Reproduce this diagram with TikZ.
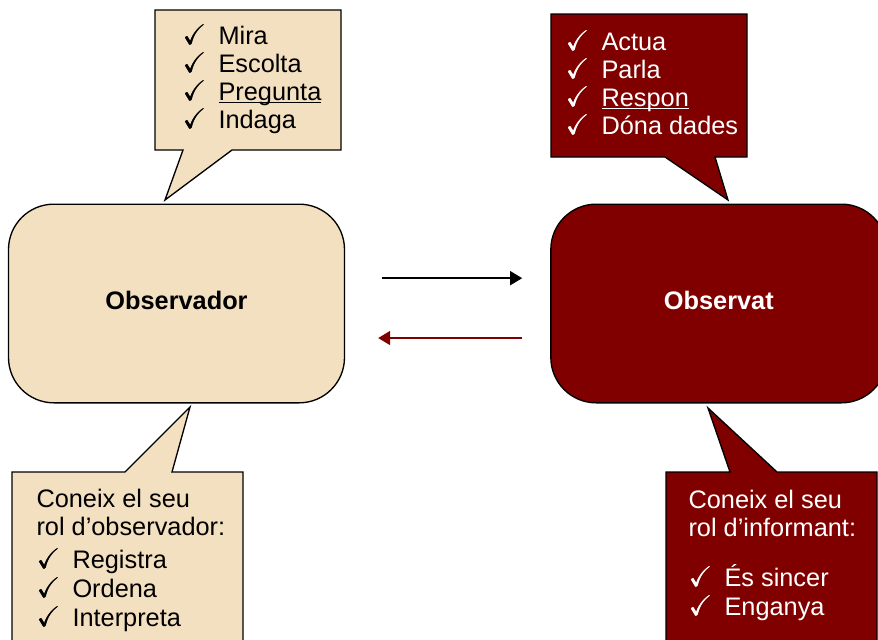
\documentclass[tikz,border=0pt]{standalone}
\usepackage{amsmath}
\usepackage{amssymb}
\usepackage{fontspec}
\setmainfont{Liberation Sans}
\usetikzlibrary{arrows.meta, positioning, calc}

\definecolor{beige}{RGB}{243,224,192}
\definecolor{granat}{RGB}{128,0,0}
\newcommand{\chk}{\makebox[27pt][l]{\scalebox{1.12}{\rlap{$\checkmark$}\kern0.3pt$\checkmark$}}}
\newcommand{\subr}[1]{\setbox0\hbox{#1}\rlap{\rule[-2.2pt]{\wd0}{0.9pt}}\box0}

\begin{document}
\begin{tikzpicture}[x=0.75pt,y=-0.75pt,>={Triangle[length=9pt,width=10.5pt]},
            thick,box/.style={draw, line width=1pt, rounded corners=34pt, inner sep=0pt, text depth=5pt,
            minimum width=252pt, minimum height=149pt, font=\fontsize{19}{21}\selectfont\bfseries}]
            \useasboundingbox (0,0) rectangle (878,639);

            % the two roles
            \node [box, fill=beige] at (176.5,303.5) (obs) {Observador};
            \node [box, fill=granat, text=white, right=153.75pt of obs] (observat) {Observat};

            % arrows between them
            \draw [->, line width=1.2pt, shorten <=27.75pt, shorten >=21pt]
                ([yshift=19pt]obs.east) -- ([yshift=19pt]observat.west);
            \draw [->, granat, line width=1.2pt, shorten <=21pt, shorten >=24.75pt]
                ([yshift=-25.9pt]observat.west) -- ([yshift=-25.9pt]obs.east);

             \tikzstyle{callA} = [draw, line width=1pt, fill=beige]
             \tikzstyle{callB} = [draw, line width=1pt, fill=granat]
             \tikzstyle{list} = [anchor=base west, inner sep=0pt, font=\fontsize{19}{21}\selectfont]

             % callouts above
             \draw [callA] (155,10) -- (341,10) -- (341,150) -- (232,150) -- (165,200) -- (183,150) -- (155,150) -- cycle;
             \node [list] at (182,44) (fesA) {\begin{tabular}[t]{@{}l@{}}
                 \chk Mira\\ \chk Escolta\\ \chk \subr{Pregunta}\\ \chk Indaga
               \end{tabular}};

             \draw [callB] (551,14) -- (747,14) -- (747,157) -- (715,157) -- (728,200) -- (665,157) -- (551,157) -- cycle;
             \node [list, text=white] at (565,50) (fesB) {\begin{tabular}[t]{@{}l@{}}
                 \chk Actua\\ \chk Parla\\ \chk \subr{Respon}\\ \chk Dóna dades
               \end{tabular}};

             % callouts below
             \draw [callA] (12,472) -- (125,472) -- (190,407) -- (172,472) -- (243,472) -- (243,660) -- (12,660) -- cycle;
             \node [list, font=\fontsize{19}{21.7}\selectfont] at (36,507) (rolA) {\begin{tabular}[t]{@{}l@{}}
                 Coneix el seu\\ rol d’observador:\\[3pt] \chk Registra\\ \chk Ordena\\ \chk Interpreta
               \end{tabular}};

             \draw [callB] (666,472) -- (730,472) -- (708,408) -- (777,472) -- (877,472) -- (877,660) -- (666,660) -- cycle;
             \node [list, text=white, font=\fontsize{19}{21.7}\selectfont] at (688,508) (rolB) {\begin{tabular}[t]{@{}l@{}}
                 Coneix el seu\\ rol d’informant:\\[14pt] \chk És sincer\\ \chk Enganya
               \end{tabular}};
\end{tikzpicture}
\end{document}
